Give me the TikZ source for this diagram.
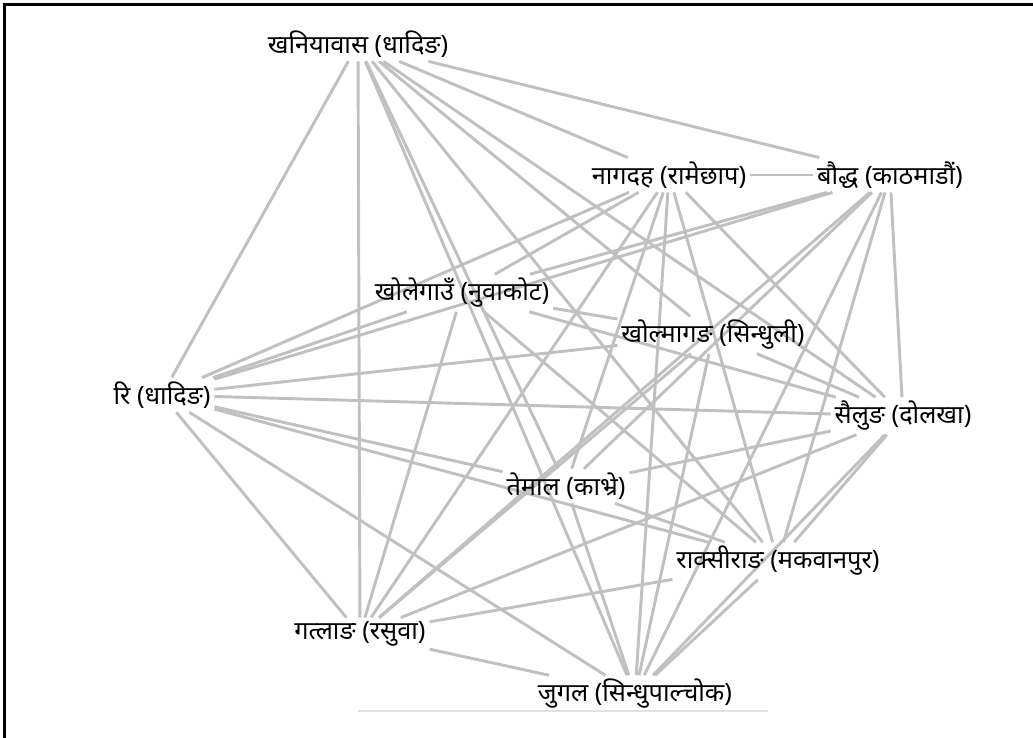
\documentclass[tikz,border=0pt]{standalone}
\usepackage{fontspec}
\newfontfamily\deva[Script=Devanagari]{Noto Sans}
\usetikzlibrary{positioning, backgrounds}

\definecolor{linkgray}{RGB}{192,192,192}
\definecolor{basegray}{RGB}{226,226,226}

\begin{document}
\begin{tikzpicture}
[
    x=0.75pt, y=-0.75pt,
    % places are named V-<letter>, edges are listed as pairs below
]

%=================================== Start ===================================
\tikzstyle{place} = [inner sep=3pt, outer sep=0pt, font=\deva\fontsize{19}{22}\selectfont]
\tikzstyle{link}  = [draw=linkgray, line width=2.2pt]

\useasboundingbox (0,0) rectangle (1033,738);

% frame (left and top only)
\draw[line width=2.4pt] (4.5,738) -- (4.5,4.5) -- (1033,4.5);

{
    % Place the labels
    \node[place] (V-A) at (358,44)  {खनियावास (धादिङ)};
    \node[place] (V-B) at (669,175) {नागदह (रामेछाप)};
    \node[place] (V-C) at (890,175) {बौद्ध (काठमाडौं)};
    \node[place] (V-D) at (462,293) {खोलेगाउँ (नुवाकोट)};
    \node[place] (V-E) at (713,335) {खोल्मागङ (सिन्धुली)};
    \node[place] (V-F) at (162,395) {रि (धादिङ)};
    \node[place] (V-G) at (903,416) {सैलुङ (दोलखा)};
    \node[place] (V-H) at (566,486) {तेमाल (काभ्रे)};
    \node[place] (V-I) at (778,561) {राक्सीराङ (मकवानपुर)};
    \node[place] (V-J) at (360,634) {गत्लाङ (रसुवा)};
    \node[place] (V-K) at (635,694) {जुगल (सिन्धुपाल्चोक)};

    \begin{scope}[on background layer]
    % Connect places
    \foreach \a / \b in {A/F, A/J, A/H, A/K, A/I, A/E, A/G, A/B, A/C,
                         B/C, B/D, B/F, B/J, B/K, B/I, B/G, B/H,
                         C/D, C/F, C/G, C/I, C/J, C/H, C/K}
        \path (V-\a) edge[link] (V-\b);
    \foreach \a / \b in {D/E, D/F, D/J, D/G, D/I,
                         E/F, E/G, E/J, E/K,
                         F/G, F/H, F/I, F/J, F/K,
                         G/H, G/J, G/K, G/I,
                         H/I, H/K, I/J, I/K, J/K}
        \path (V-\a) edge[link] (V-\b);
    \end{scope}

    % base line under the bottom label
    \coordinate (base-w) at (358,711);
    \coordinate (base-e) at (768,711);
    \draw[basegray, line width=2.2pt] (base-w) -- (base-e);
}
%==================================== END ====================================

\end{tikzpicture}
\end{document}
